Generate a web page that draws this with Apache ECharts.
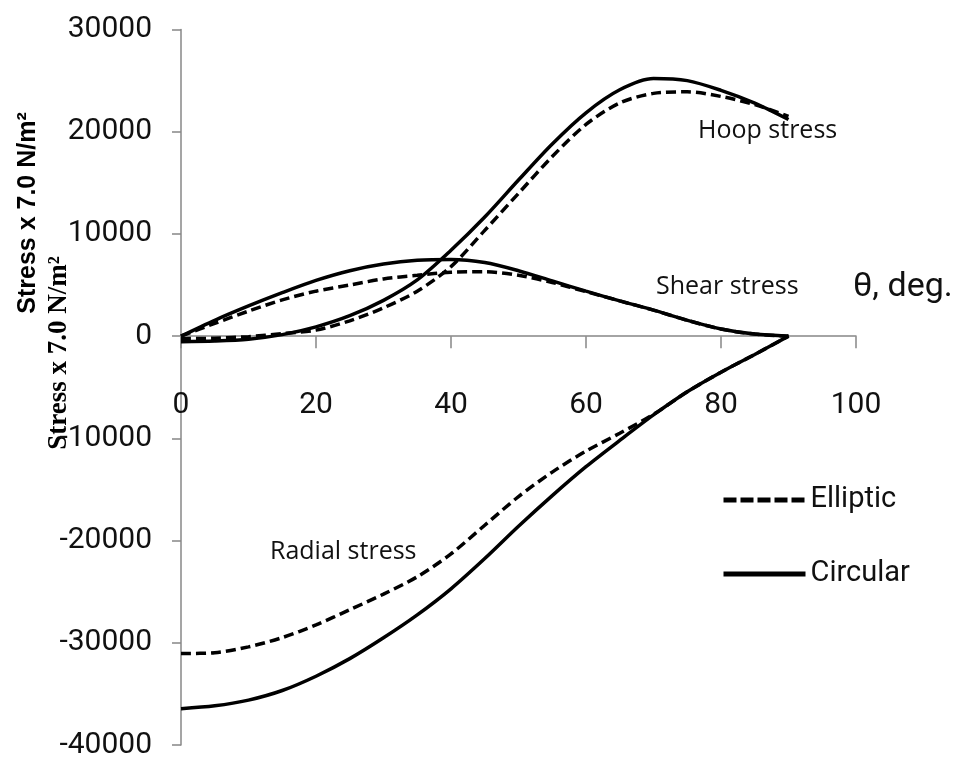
<!DOCTYPE html>
<html>
<head>
<meta charset="utf-8">
<title>Stress distribution around the opening</title>
<script src="https://cdn.jsdelivr.net/npm/echarts@6/dist/echarts.min.js"></script>
<style>
  html, body { margin: 0; padding: 0; background: #ffffff; }
  #chart { width: 954px; height: 761px; }
</style>
</head>
<body>
<div id="chart"></div>
<script>
// Angle around the opening, degrees
const theta = [0, 5, 10, 15, 20, 25, 30, 35, 40, 45, 50, 55, 60, 65, 70, 75, 80, 85, 90];

// Hoop stress
const hoopCircular = [-550, -480, -300, 150, 910, 2000, 3500, 5500, 8400, 11650, 15270, 18800, 21850, 24100, 25200, 25000, 24050, 22800, 21200];
const hoopElliptic = [-250, -200, -50, 250, 590, 1500, 2770, 4400, 6800, 10350, 13970, 17570, 20710, 22810, 23750, 23900, 23450, 22650, 21500];

// Shear stress
const shearCircular = [0, 1550, 2950, 4250, 5450, 6400, 7050, 7420, 7500, 7200, 6400, 5400, 4400, 3450, 2550, 1550, 700, 200, 0];
const shearElliptic = [0, 1250, 2450, 3550, 4400, 5000, 5600, 5950, 6250, 6300, 5950, 5250, 4350, 3450, 2550, 1550, 700, 200, 0];

// Radial stress
const radialCircular = [-36450, -36170, -35610, -34670, -33270, -31550, -29510, -27270, -24720, -21760, -18600, -15600, -12770, -10200, -7710, -5440, -3530, -1790, 0];
const radialElliptic = [-31050, -30970, -30400, -29490, -28250, -26770, -25240, -23540, -21300, -18500, -15700, -13300, -11250, -9500, -7650, -5450, -3530, -1790, 0];

// Axis ticks
const xTicks = { min: 0, max: 100, step: 20 };
const yTicks = { min: -40000, max: 30000, step: 10000 };

const labelFont = 'Roboto, "Liberation Sans", sans-serif';
const noteFont = '"Open Sans", "Liberation Sans", sans-serif';
const axisGray = '#878787';
const ink = '#111111';

const pair = (xs, ys) => xs.map((x, i) => [x, ys[i]]);

function curve(name, values, isDashed) {
  return {
    name: name,
    type: 'line',
    data: pair(theta, values),
    smooth: 0.3,
    symbol: 'none',
    silent: true,
    itemStyle: { color: '#000' },
    lineStyle: { color: '#000', width: 3.5, type: isDashed ? [10, 5] : 'solid' }
  };
}

// Plot area
const gridBox = { left: 181, right: 98, top: 29.5, bottom: 16 };
const plotHeight = 761 - gridBox.top - gridBox.bottom;
// Horizontal axis sits on the y = 0 line
const zeroShift = -plotHeight * (0 - yTicks.min) / (yTicks.max - yTicks.min);

const chart = echarts.init(document.getElementById('chart'), null, { renderer: 'canvas' });

chart.setOption({
  animation: false,
  backgroundColor: '#ffffff',
  grid: Object.assign({ containLabel: false, outerBoundsMode: 'none' }, gridBox),
  xAxis: {
    type: 'value',
    position: 'bottom',
    offset: zeroShift,
    min: xTicks.min,
    max: xTicks.max,
    interval: xTicks.step,
    axisLine: { onZero: false, lineStyle: { color: axisGray, width: 1.5 } },
    axisTick: { show: true, length: 12, lineStyle: { color: axisGray, width: 1.5 } },
    axisLabel: { show: true, margin: 54, fontSize: 30, fontFamily: labelFont, color: ink, formatter: v => String(v) },
    splitLine: { show: false }
  },
  yAxis: {
    type: 'value',
    min: yTicks.min,
    max: yTicks.max,
    interval: yTicks.step,
    axisLine: { show: true, lineStyle: { color: axisGray, width: 1.5 } },
    axisTick: { show: true, length: 9, lineStyle: { color: axisGray, width: 1.5 } },
    axisLabel: { margin: 29, fontSize: 30, fontFamily: labelFont, color: ink, formatter: v => String(v) },
    splitLine: { show: false }
  },
  legend: {
    orient: 'vertical',
    left: 721,
    top: 483,
    padding: 0,
    itemWidth: 82,
    itemHeight: 14,
    itemGap: 40,
    textStyle: { fontSize: 29, fontFamily: labelFont, color: ink, lineHeight: 34 },
    data: [
      { name: 'Elliptic', itemStyle: { opacity: 0 }, lineStyle: { width: 5, type: [13, 4], color: '#000' } },
      { name: 'Circular', itemStyle: { opacity: 0 }, lineStyle: { width: 5, type: 'solid', color: '#000' } }
    ]
  },
  series: [
    curve('Circular', hoopCircular, false),
    curve('Elliptic', hoopElliptic, true),
    curve('Circular', shearCircular, false),
    curve('Elliptic', shearElliptic, true),
    curve('Circular', radialCircular, false),
    curve('Elliptic', radialElliptic, true)
  ],
  graphic: [
    {
      type: 'text', x: 28, y: 213, rotation: Math.PI / 2, silent: true,
      style: { text: 'Stress x 7.0 N/m²', font: 'bold 25px "Liberation Sans", sans-serif', fill: '#000', align: 'center', verticalAlign: 'middle' }
    },
    {
      type: 'text', x: 59, y: 353, rotation: Math.PI / 2, silent: true,
      style: { text: 'Stress x 7.0 N/m²', font: 'bold 27px "Liberation Serif", serif', fill: '#000', align: 'center', verticalAlign: 'middle' }
    },
    {
      type: 'text', x: 698, y: 131, silent: true,
      style: { text: 'Hoop stress', font: '25px ' + noteFont, fill: ink, align: 'left', verticalAlign: 'middle' }
    },
    {
      type: 'text', x: 656, y: 287, silent: true,
      style: { text: 'Shear stress', font: '25px ' + noteFont, fill: ink, align: 'left', verticalAlign: 'middle' }
    },
    {
      type: 'text', x: 270, y: 552, silent: true,
      style: { text: 'Radial stress', font: '25px ' + noteFont, fill: ink, align: 'left', verticalAlign: 'middle' }
    },
    {
      type: 'text', x: 853, y: 287, silent: true,
      style: { text: 'θ, deg.', font: '34px ' + labelFont, fill: ink, align: 'left', verticalAlign: 'middle' }
    }
  ]
});
</script>
</body>
</html>
